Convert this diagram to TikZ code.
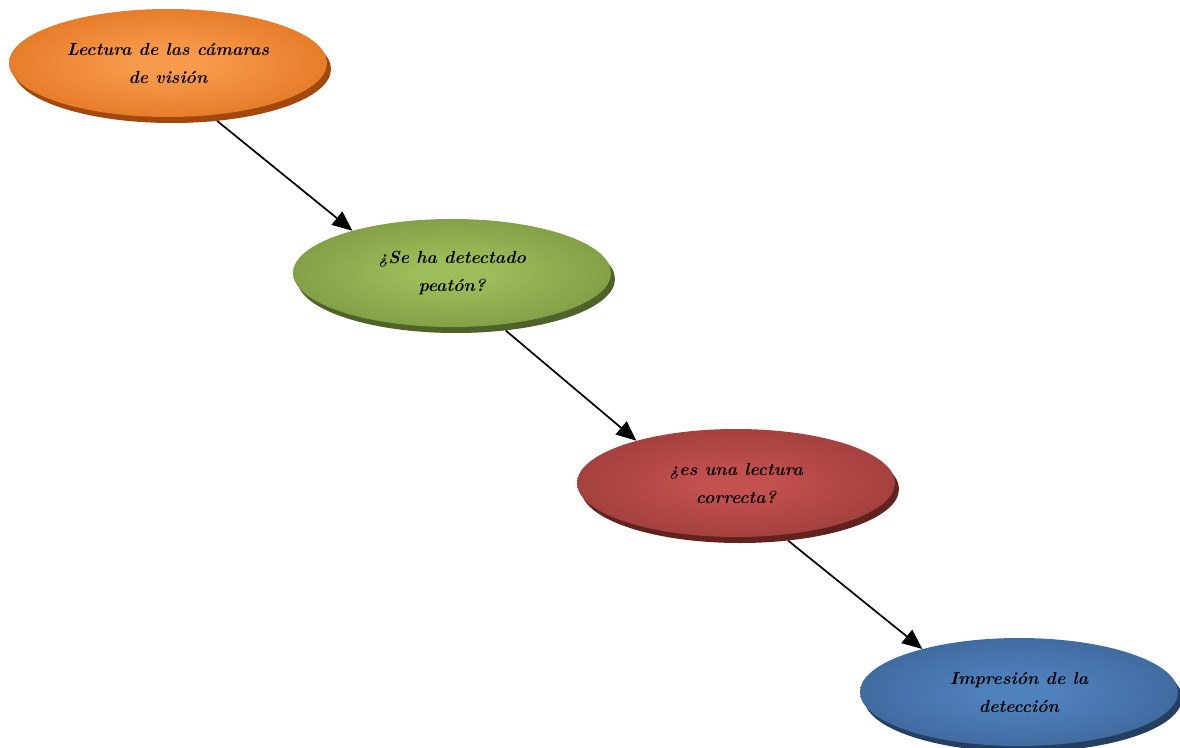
\documentclass[tikz,border=0pt]{standalone}
\usepackage{fontspec}
\usetikzlibrary{shapes.geometric,arrows.meta}
\definecolor{orC}{HTML}{F79A4C}\definecolor{orE}{HTML}{DA6610}\definecolor{orR}{HTML}{A3480C}
\definecolor{grC}{HTML}{9DBD5A}\definecolor{grE}{HTML}{6F8A38}\definecolor{grR}{HTML}{4F6228}
\definecolor{reC}{HTML}{C2504E}\definecolor{reE}{HTML}{8C3432}\definecolor{reR}{HTML}{62231F}
\definecolor{blC}{HTML}{4F81BD}\definecolor{blE}{HTML}{355A8A}\definecolor{blR}{HTML}{243F60}
\pgfdeclareradialshading{orglow}{\pgfpoint{0bp}{0bp}}{color(0bp)=(orC); color(6bp)=(orC); color(40bp)=(orE); color(50bp)=(orE)}
\pgfdeclareradialshading{grglow}{\pgfpoint{0bp}{0bp}}{color(0bp)=(grC); color(6bp)=(grC); color(40bp)=(grE); color(50bp)=(grE)}
\pgfdeclareradialshading{reglow}{\pgfpoint{0bp}{0bp}}{color(0bp)=(reC); color(6bp)=(reC); color(40bp)=(reE); color(50bp)=(reE)}
\pgfdeclareradialshading{blglow}{\pgfpoint{0bp}{0bp}}{color(0bp)=(blC); color(6bp)=(blC); color(40bp)=(blE); color(50bp)=(blE)}
\begin{document}
\begin{tikzpicture}[x=1pt,y=-1pt,
  rimshape/.style={ellipse, minimum width=318pt, minimum height=108pt, inner sep=0pt},
  face/.style={ellipse, minimum width=318pt, minimum height=108pt, inner sep=0pt,
    align=center, font=\fontsize{17.5}{28}\selectfont\bfseries\itshape},
  arr/.style={-{Triangle[length=20pt,width=17pt]}, line width=1.7pt}]
\useasboundingbox (0,0) rectangle (1180,747);
\clip (0,0) rectangle (1180,747);
\node[rimshape, fill=orR] (r1) at (172,69) {};
\node[face, shading=orglow] (e1) at (168,63) {Lectura de las cámaras\\de visión};
\node[rimshape, fill=grR] (r2) at (456,279) {};
\node[face, shading=grglow] (e2) at (452,273) {¿Se ha detectado\\peatón?};
\node[rimshape, fill=reR] (r3) at (740,489) {};
\node[face, shading=reglow] (e3) at (736,483) {¿es una lectura\\correcta?};
\node[rimshape, fill=blR] (r4) at (1023,698) {};
\node[face, shading=blglow] (e4) at (1019,692) {Impresión de la\\detección};
\draw[arr] (r1.-49) -- (e2.157);
\draw[arr] (r2.-46) -- (e3.157);
\draw[arr] (r3.-47) -- (e4.156);
\end{tikzpicture}
\end{document}
